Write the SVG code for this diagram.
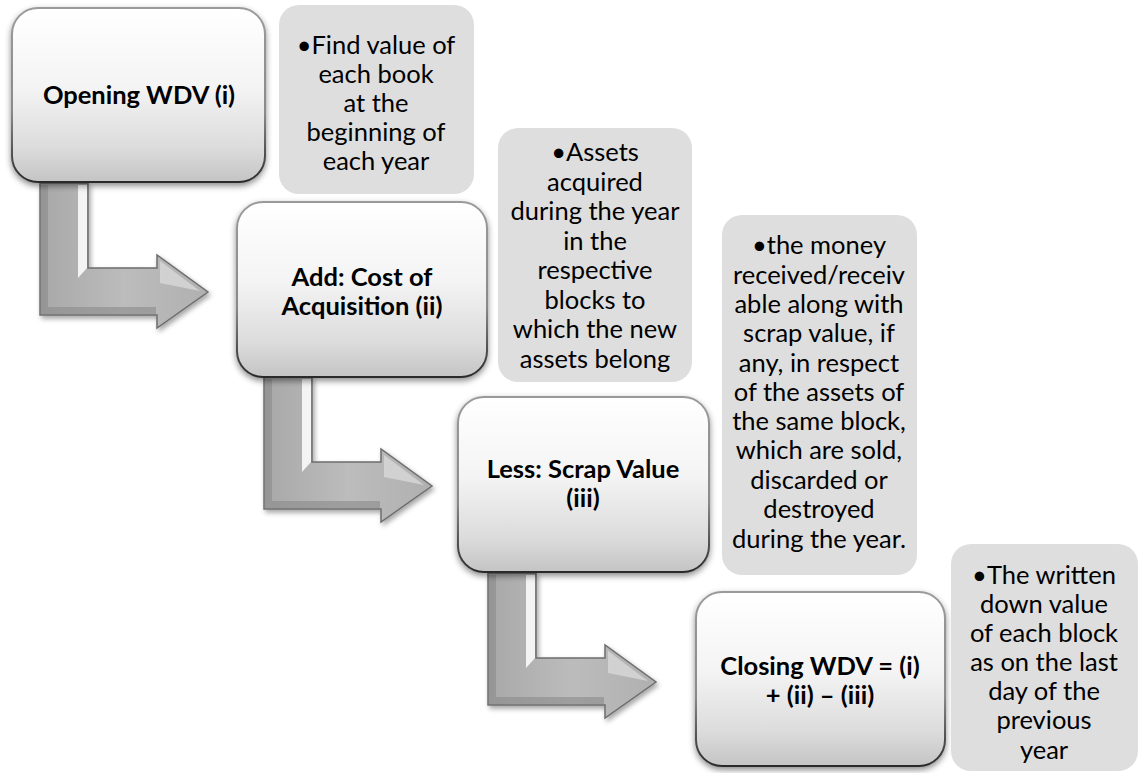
<svg xmlns="http://www.w3.org/2000/svg" width="1139" height="773" viewBox="0 0 1139 773">
<defs>
<linearGradient id="nodeFill" x1="0" y1="0" x2="0" y2="1">
<stop offset="0" stop-color="#ffffff"/>
<stop offset="0.45" stop-color="#f4f4f4"/>
<stop offset="0.8" stop-color="#dcdcdc"/>
<stop offset="1" stop-color="#c4c4c4"/>
</linearGradient>
<linearGradient id="nodeStroke" x1="0" y1="0" x2="0" y2="1">
<stop offset="0" stop-color="#9a9a9a"/>
<stop offset="0.6" stop-color="#8a8a8a"/>
<stop offset="1" stop-color="#2a2a2a"/>
</linearGradient>
<linearGradient id="arrowFill" x1="0" y1="0" x2="1" y2="0">
<stop offset="0" stop-color="#a8a8a8"/>
<stop offset="0.5" stop-color="#bcbcbc"/>
<stop offset="1" stop-color="#b0b0b0"/>
</linearGradient>
<filter id="shadow" x="-10%" y="-10%" width="125%" height="130%">
<feDropShadow dx="0" dy="3" stdDeviation="3" flood-color="#000" flood-opacity="0.45"/>
</filter>
<filter id="ashadow" x="-10%" y="-10%" width="130%" height="130%">
<feDropShadow dx="2" dy="3" stdDeviation="2.5" flood-color="#000" flood-opacity="0.35"/>
</filter>
<path id="arrowShape" d="M0,0 L48,0 L48,85 L117,85 L117,72 L168,109 L117,145 L117,132 L0,132 Z"/>
</defs>
<style>
.node rect{fill:url(#nodeFill);stroke:url(#nodeStroke);stroke-width:2;filter:url(#shadow)}
.node text{font-family:Lato,"Open Sans","Liberation Sans",sans-serif;font-weight:bold;font-size:25.5px;fill:#000;text-anchor:middle}
.note rect{fill:#dedede}
.note text{font-family:Lato,"Open Sans","Liberation Sans",sans-serif;font-size:25.5px;fill:#000;text-anchor:middle}
.arrow .body{fill:url(#arrowFill);stroke:#6e6e6e;stroke-width:1.5;filter:url(#ashadow)}
.arrow .hl{fill:#ffffff;opacity:0.85}
.arrow .dk{fill:#8a8a8a;opacity:0.6}
.arrow .hl2{fill:#d8d8d8;opacity:0.8}
</style>
<rect width="1139" height="773" fill="#ffffff"/>

<g id="connectors">
<g class="arrow" transform="translate(40,183)">
<use href="#arrowShape" class="body"/>
<polygon class="hl" points="38,2 47,2 47,85 38,95"/>
<polygon class="dk" points="1,2 8,2 8,124 1,131"/>
<polygon class="dk" points="1,131 8,124 116,124 116,131"/>
<polygon class="hl2" points="120,78 160,108 120,100"/>
</g>
<g class="arrow" transform="translate(264,377)">
<use href="#arrowShape" class="body"/>
<polygon class="hl" points="38,2 47,2 47,85 38,95"/>
<polygon class="dk" points="1,2 8,2 8,124 1,131"/>
<polygon class="dk" points="1,131 8,124 116,124 116,131"/>
<polygon class="hl2" points="120,78 160,108 120,100"/>
</g>
<g class="arrow" transform="translate(488,573)">
<use href="#arrowShape" class="body"/>
<polygon class="hl" points="38,2 47,2 47,85 38,95"/>
<polygon class="dk" points="1,2 8,2 8,124 1,131"/>
<polygon class="dk" points="1,131 8,124 116,124 116,131"/>
<polygon class="hl2" points="120,78 160,108 120,100"/>
</g>
</g>

<g id="node1" class="node">
<rect x="12" y="8" width="253" height="174" rx="26"/>
<text x="139" y="104">Opening WDV (i)</text>
</g>
<g id="note1" class="note">
<rect x="279" y="5" width="195" height="189" rx="20"/>
<text x="376" y="54">•Find value of</text>
<text x="376" y="83">each book</text>
<text x="376" y="112">at the</text>
<text x="376" y="141">beginning of</text>
<text x="376" y="170">each year</text>
</g>

<g id="node2" class="node">
<rect x="237" y="202" width="250" height="175" rx="26"/>
<text x="362" y="286">Add: Cost of</text>
<text x="362" y="315">Acquisition (ii)</text>
</g>
<g id="note2" class="note">
<rect x="498" y="128" width="194" height="254" rx="20"/>
<text x="595" y="161">•Assets</text>
<text x="595" y="191">acquired</text>
<text x="595" y="220">during the year</text>
<text x="595" y="250">in the</text>
<text x="595" y="279">respective</text>
<text x="595" y="309">blocks to</text>
<text x="595" y="338">which the new</text>
<text x="595" y="368">assets belong</text>
</g>

<g id="node3" class="node">
<rect x="458" y="397" width="251" height="175" rx="26"/>
<text x="583" y="478">Less: Scrap Value</text>
<text x="583" y="507">(iii)</text>
</g>
<g id="note3" class="note">
<rect x="722" y="215" width="195" height="360" rx="20"/>
<text x="819" y="254">•the money</text>
<text x="819" y="284">received/receiv</text>
<text x="819" y="313">able along with</text>
<text x="819" y="342">scrap value, if</text>
<text x="819" y="372">any, in respect</text>
<text x="819" y="401">of the assets of</text>
<text x="819" y="430">the same block,</text>
<text x="819" y="459">which are sold,</text>
<text x="819" y="489">discarded or</text>
<text x="819" y="518">destroyed</text>
<text x="819" y="548">during the year.</text>
</g>

<g id="node4" class="node">
<rect x="696" y="592" width="249" height="174" rx="26"/>
<text x="820" y="675">Closing WDV = (i)</text>
<text x="820" y="704">+ (ii) – (iii)</text>
</g>
<g id="note4" class="note">
<rect x="951" y="544" width="187" height="227" rx="20"/>
<text x="1044" y="584">•The written</text>
<text x="1044" y="613">down value</text>
<text x="1044" y="642">of each block</text>
<text x="1044" y="671">as on the last</text>
<text x="1044" y="700">day of the</text>
<text x="1044" y="729">previous</text>
<text x="1044" y="759">year</text>
</g>
</svg>
